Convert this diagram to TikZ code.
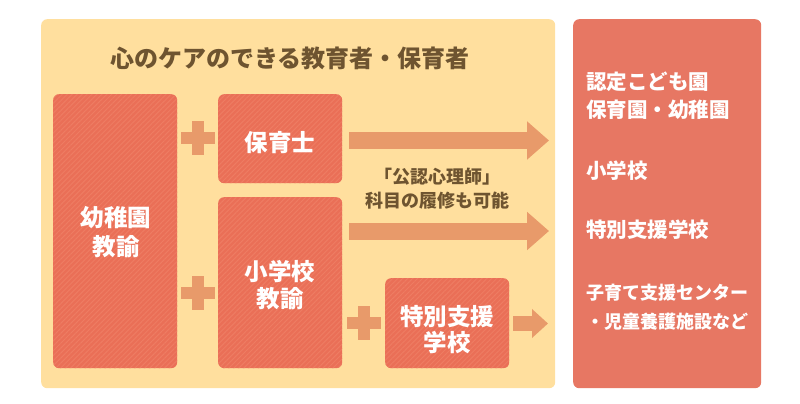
\documentclass[tikz,border=0pt]{standalone}
\usepackage{fontspec}
\setmainfont{Noto Sans CJK JP}
\usetikzlibrary{arrows.meta,patterns.meta}
\definecolor{panelc}{HTML}{FFDF9E}
\definecolor{boxc}{HTML}{EA6F57}
\definecolor{stripec}{HTML}{EE7C63}
\definecolor{rightc}{HTML}{E77763}
\definecolor{plusc}{HTML}{E89A6A}
\definecolor{brownc}{HTML}{6E5430}
\tikzset{
  panel/.style={anchor=north west, inner sep=0pt, rounded corners=6pt, fill=panelc},
  rbox/.style={anchor=north west, inner sep=0pt, rounded corners=6pt, fill=rightc},
  cbox/.style={anchor=north west, inner sep=0pt, rounded corners=6pt, fill=boxc,
    postaction={pattern={Lines[angle=45,distance=3.5pt,line width=1pt]}, pattern color=stripec}},
  boxtext/.style={text=white, font=\bfseries\fontsize{23.5}{28}\selectfont, align=center, inner sep=0pt},
  righttext/.style={text=white, font=\bfseries\fontsize{20.5}{24}\selectfont, anchor=west, inner sep=0pt},
  rightsmall/.style={text=white, font=\bfseries\fontsize{18}{22}\selectfont, anchor=west, inner sep=0pt},
  browntext/.style={text=brownc, font=\bfseries\fontsize{18}{24}\selectfont, align=center, inner sep=0pt},
  plusbar/.style={fill=plusc, inner sep=0pt},
  fatarrow/.style={draw=plusc, line width=17pt, -{Triangle[length=22pt,width=37pt]}},
  smallarrow/.style={draw=plusc, line width=15pt, -{Triangle[length=16pt,width=28pt]}},
}
\newcommand{\plusmark}[2]{%
  \node[plusbar, minimum width=34pt, minimum height=12pt] (#1h) at #2 {};
  \node[plusbar, minimum width=12pt, minimum height=34pt] (#1v) at #2 {};}
\begin{document}
\begin{tikzpicture}[x=1pt,y=-1pt]
\useasboundingbox (0,0) rectangle (800,404);
% panels
\node[panel, minimum width=514pt, minimum height=369pt] (panel) at (41,19) {};
\node[rbox, minimum width=188pt, minimum height=369pt] (right) at (573,19) {};
% title
\node[text=brownc, font=\bfseries\fontsize{24}{28}\selectfont, inner sep=0pt] (title) at (290,58) {心のケアのできる教育者・保育者};
% boxes
\node[cbox, minimum width=124pt, minimum height=274pt] (youchien) at (53,94) {};
\node[cbox, minimum width=124pt, minimum height=89pt] (hoiku) at (218,94) {};
\node[cbox, minimum width=124pt, minimum height=171pt] (shou) at (218,197) {};
\node[cbox, minimum width=124pt, minimum height=90pt] (toku) at (385,278) {};
% box texts
\node[boxtext, font=\bfseries\fontsize{23.5}{29}\selectfont] (tyouchien) at (116,232) {幼稚園\\教諭};
\node[boxtext] (thoiku) at (280,143) {保育士};
\node[boxtext, font=\bfseries\fontsize{23.5}{27}\selectfont] (tshou) at (280,285) {小学校\\教諭};
\node[boxtext, font=\bfseries\fontsize{23.5}{26}\selectfont] (ttoku) at (447,330) {特別支援\\学校};
% plus signs
\plusmark{p1}{(198,138)}
\plusmark{p2}{(198,293)}
\plusmark{p3}{(364,323)}
% arrows
\coordinate (a1s) at (349,140.5);
\coordinate (a1e) at (549,140.5);
\coordinate (a2s) at (349,231);
\coordinate (a2e) at (549,231);
\coordinate (a3s) at (513,323.5);
\coordinate (a3e) at (548,323.5);
\draw[fatarrow] (a1s) -- (a1e);
\draw[fatarrow] (a2s) -- (a2e);
\draw[smallarrow] (a3s) -- (a3e);
% middle text
\node[browntext] (mid) at (437,189) {「公認心理師」\\科目の履修も可能};
% right texts
\node[righttext] (r1) at (586,82) {認定こども園};
\node[righttext] (r2) at (586,110) {保育園・幼稚園};
\node[righttext] (r3) at (586,171) {小学校};
\node[righttext] (r4) at (586,230) {特別支援学校};
\node[rightsmall] (r5) at (586,293) {子育て支援センター};
\node[rightsmall] (r6) at (586,322) {・児童養護施設など};
\end{tikzpicture}
\end{document}
